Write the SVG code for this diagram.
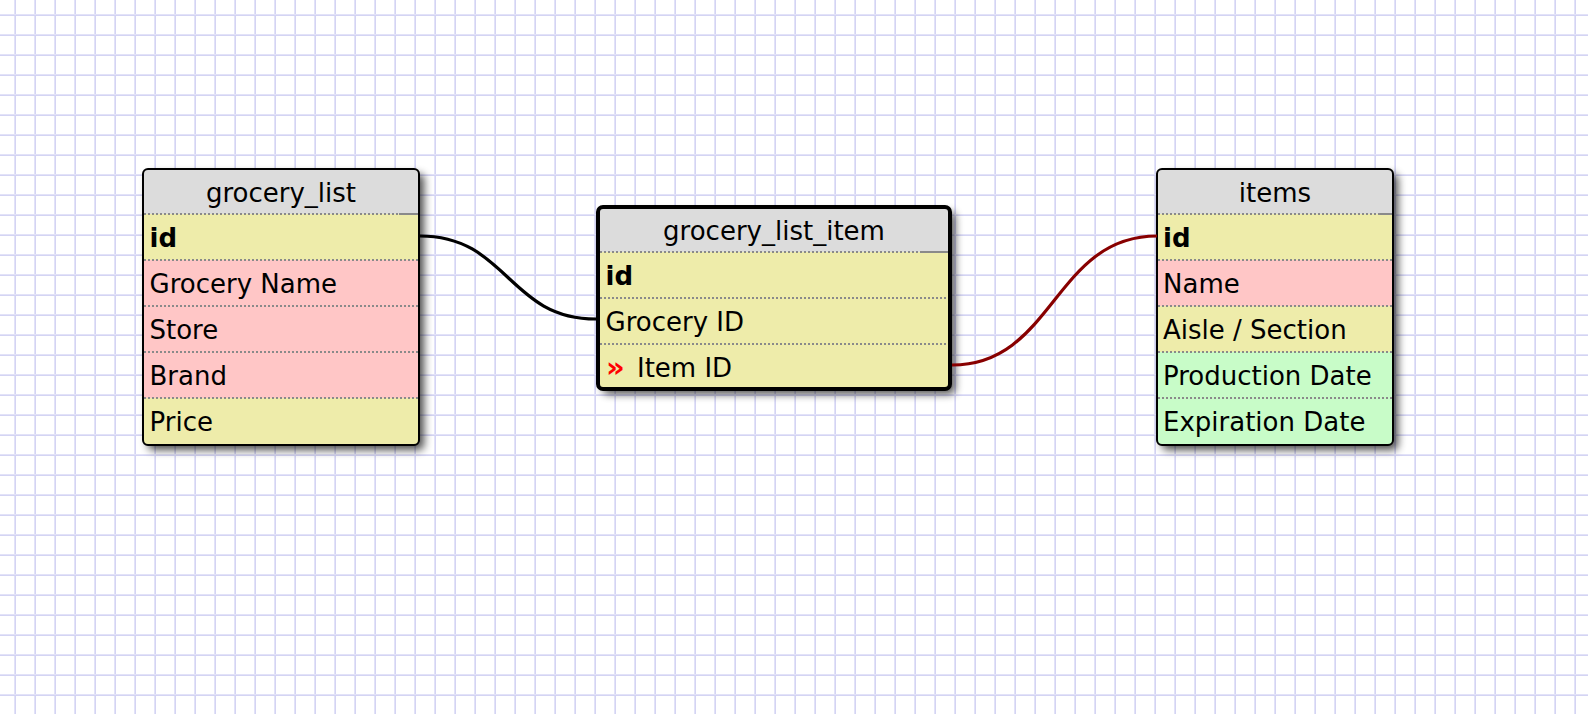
<svg xmlns="http://www.w3.org/2000/svg" width="1588" height="714" viewBox="0 0 1588 714">
  <defs>
    <pattern id="grid" width="20" height="20" patternUnits="userSpaceOnUse">
      <rect width="20" height="20" fill="#fff"/>
      <rect x="14" y="0" width="1" height="20" fill="#e2e2f8"/>
      <rect x="15" y="0" width="1" height="20" fill="#d4d4f3"/>
      <rect x="0" y="14" width="20" height="1" fill="#e2e2f8"/>
      <rect x="0" y="15" width="20" height="1" fill="#d4d4f3"/>
    </pattern>
    <filter id="soft" x="-20%" y="-20%" width="140%" height="140%">
      <feGaussianBlur stdDeviation="4.5"/>
    </filter>
    <clipPath id="clip-gl"><rect x="143" y="169" width="276" height="276" rx="5"/></clipPath>
    <clipPath id="clip-gli"><rect x="598" y="207" width="352" height="182" rx="5"/></clipPath>
    <clipPath id="clip-it"><rect x="1157" y="169" width="236" height="276" rx="5"/></clipPath>
    <style>
      .t { font-family: "DejaVu Sans", Verdana, sans-serif; font-size: 26px; fill: #000; }
      .b { font-weight: bold; }
      .hd { text-anchor: middle; }
      .head { fill: #dcdcdc; }
      .num { fill: #eeecaa; }
      .str { fill: #ffc6c6; }
      .date { fill: #c8fcc8; }
      .sep { stroke: #8a8a8a; stroke-width: 2; stroke-dasharray: 2 2; fill: none; }
      .solid { stroke: #8a8a8a; stroke-width: 2; fill: none; }
      .shadow { fill: #000; opacity: 0.7; filter: url(#soft); }
      .frame { fill: none; stroke: #000; stroke-width: 2; }
      .frame.sel { stroke-width: 4; }
      .link { fill: none; stroke-width: 3.2; }
      .fk { font-family: "DejaVu Sans", Verdana, sans-serif; font-weight: bold; font-size: 29px; fill: #f00; }
    </style>
  </defs>

  <!-- paper grid -->
  <rect width="1588" height="714" fill="url(#grid)"/>

  <!-- table: grocery_list -->
  <g id="grocery_list">
    <rect class="shadow" x="148" y="174" width="276" height="276" rx="5"/>
    <g clip-path="url(#clip-gl)">
      <rect class="head" x="143" y="169" width="276" height="45"/>
      <rect class="num" x="143" y="214" width="276" height="46"/>
      <rect class="str" x="143" y="260" width="276" height="46"/>
      <rect class="str" x="143" y="306" width="276" height="46"/>
      <rect class="str" x="143" y="352" width="276" height="46"/>
      <rect class="num" x="143" y="398" width="276" height="47"/>
    </g>
    <line class="sep" x1="144" y1="214" x2="399" y2="214"/>
    <line class="solid" x1="399" y1="214" x2="418" y2="214"/>
    <line class="sep" x1="144" y1="260" x2="418" y2="260"/>
    <line class="sep" x1="144" y1="306" x2="418" y2="306"/>
    <line class="sep" x1="144" y1="352" x2="418" y2="352"/>
    <line class="sep" x1="144" y1="398" x2="418" y2="398"/>
    <rect class="frame" x="143" y="169" width="276" height="276" rx="5"/>
    <text class="t hd" x="281" y="202">grocery_list</text>
    <text class="t b" x="149.5" y="247">id</text>
    <text class="t" x="149.5" y="293">Grocery Name</text>
    <text class="t" x="149.5" y="339">Store</text>
    <text class="t" x="149.5" y="385">Brand</text>
    <text class="t" x="149.5" y="431">Price</text>
  </g>

  <!-- table: grocery_list_item (selected) -->
  <g id="grocery_list_item">
    <rect class="shadow" x="603" y="212" width="352" height="182" rx="5"/>
    <g clip-path="url(#clip-gli)">
      <rect class="head" x="598" y="207" width="352" height="45"/>
      <rect class="num" x="598" y="252" width="352" height="46"/>
      <rect class="num" x="598" y="298" width="352" height="46"/>
      <rect class="num" x="598" y="344" width="352" height="46"/>
    </g>
    <line class="sep" x1="600" y1="252" x2="920" y2="252"/>
    <line class="solid" x1="920" y1="252" x2="948" y2="252"/>
    <line class="sep" x1="600" y1="298" x2="948" y2="298"/>
    <line class="sep" x1="600" y1="344" x2="948" y2="344"/>
    <rect class="frame sel" x="598" y="207" width="352" height="182" rx="5"/>
    <text class="t hd" x="774" y="240">grocery_list_item</text>
    <text class="t b" x="605.5" y="285">id</text>
    <text class="t" x="605.5" y="331">Grocery ID</text>
    <text class="fk" x="606" y="377">»</text>
    <text class="t" x="637" y="377">Item ID</text>
  </g>

  <!-- table: items -->
  <g id="items">
    <rect class="shadow" x="1162" y="174" width="236" height="276" rx="5"/>
    <g clip-path="url(#clip-it)">
      <rect class="head" x="1157" y="169" width="236" height="45"/>
      <rect class="num" x="1157" y="214" width="236" height="46"/>
      <rect class="str" x="1157" y="260" width="236" height="46"/>
      <rect class="num" x="1157" y="306" width="236" height="46"/>
      <rect class="date" x="1157" y="352" width="236" height="46"/>
      <rect class="date" x="1157" y="398" width="236" height="47"/>
    </g>
    <line class="sep" x1="1158" y1="214" x2="1378" y2="214"/>
    <line class="solid" x1="1378" y1="214" x2="1392" y2="214"/>
    <line class="sep" x1="1158" y1="260" x2="1392" y2="260"/>
    <line class="sep" x1="1158" y1="306" x2="1392" y2="306"/>
    <line class="sep" x1="1158" y1="352" x2="1392" y2="352"/>
    <line class="sep" x1="1158" y1="398" x2="1392" y2="398"/>
    <rect class="frame" x="1157" y="169" width="236" height="276" rx="5"/>
    <text class="t hd" x="1275" y="202">items</text>
    <text class="t b" x="1163" y="247">id</text>
    <text class="t" x="1163" y="293">Name</text>
    <text class="t" x="1163" y="339">Aisle / Section</text>
    <text class="t" x="1163" y="385">Production Date</text>
    <text class="t" x="1163" y="431">Expiration Date</text>
  </g>

  <!-- relations -->
  <g id="connectors">
    <path class="link" stroke="#000" d="M420 236 C508 236 508 319 596 319"/>
    <path class="link" stroke="#880000" d="M952 365 C1054 365 1054 236 1157 236"/>
  </g>
</svg>
